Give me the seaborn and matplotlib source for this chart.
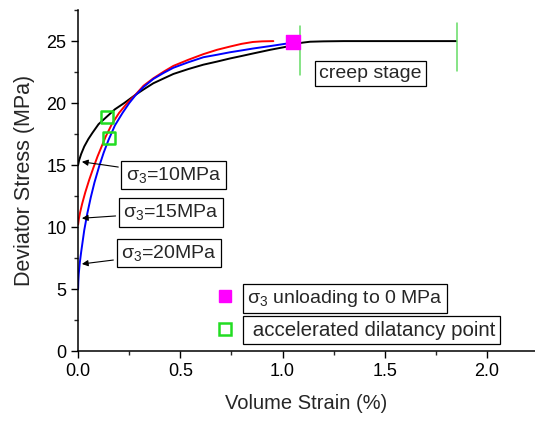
import matplotlib
matplotlib.use("Agg")
import matplotlib.pyplot as plt
from matplotlib.lines import Line2D
from matplotlib.ticker import MultipleLocator
import seaborn as sns
import pandas as pd

# Stress-strain curves (volume strain %, deviator stress MPa)
strain_10 = [0.0, 0.005, 0.015, 0.03, 0.05, 0.07, 0.1, 0.14, 0.18, 0.225, 0.279, 0.32, 0.368, 0.42, 0.466,
             0.54, 0.613, 0.68, 0.743, 0.8, 0.855, 0.94, 1.02, 1.05, 1.1, 1.135, 1.2, 1.3, 1.5, 1.7, 1.85]
stress_10 = [15.0, 15.4, 15.9, 16.5, 17.1, 17.6, 18.3, 18.9, 19.5, 20.0, 20.65, 21.1, 21.6, 22.0, 22.35,
             22.75, 23.1, 23.35, 23.6, 23.8, 24.0, 24.3, 24.55, 24.75, 24.88, 24.95, 24.98, 25.0, 25.0, 25.0, 25.0]
strain_15 = [0.0, 0.004, 0.01, 0.02, 0.035, 0.054, 0.075, 0.095, 0.115, 0.135, 0.165, 0.2, 0.24, 0.279, 0.32,
             0.368, 0.42, 0.466, 0.54, 0.613, 0.68, 0.743, 0.8, 0.855, 0.9, 0.955]
stress_15 = [10.2, 10.7, 11.2, 11.9, 12.8, 13.8, 14.8, 15.7, 16.5, 17.3, 18.3, 19.2, 20.0, 20.65, 21.4,
             22.0, 22.55, 23.0, 23.5, 23.95, 24.3, 24.56, 24.78, 24.93, 24.98, 25.0]
strain_20 = [0.0, 0.001, 0.003, 0.008, 0.015, 0.03, 0.045, 0.062, 0.08, 0.103, 0.125, 0.148, 0.18, 0.217,
             0.25, 0.279, 0.32, 0.368, 0.42, 0.466, 0.54, 0.613, 0.68, 0.743, 0.8, 0.855, 0.94, 1.02, 1.05]
stress_20 = [5.0, 5.6, 6.2, 7.1, 8.0, 9.75, 11.1, 12.4, 13.6, 14.9, 16.0, 17.0, 18.2, 19.2,
             20.0, 20.6, 21.3, 21.95, 22.45, 22.85, 23.3, 23.7, 23.9, 24.1, 24.25, 24.4, 24.6, 24.8, 24.85]

# Key points
unload_x, unload_y = [1.05], [24.9]
dilat_x, dilat_y = [0.14, 0.152], [18.9, 17.2]
creep_bounds = [1.085, 1.853]
creep_lo, creep_hi = [22.3, 22.6], [26.2, 26.5]

curves = pd.concat([
    pd.DataFrame({"strain": strain_10, "stress": stress_10, "case": "10"}),
    pd.DataFrame({"strain": strain_15, "stress": stress_15, "case": "15"}),
    pd.DataFrame({"strain": strain_20, "stress": stress_20, "case": "20"}),
])

sns.set_style("ticks")
plt.rcParams["font.family"] = ["Liberation Sans", "DejaVu Sans"]

fig, ax = plt.subplots(figsize=(5.35, 4.21), dpi=100)
fig.subplots_adjust(left=0.146, right=1.0, bottom=0.166, top=0.976)

sns.lineplot(data=curves, x="strain", y="stress", hue="case", sort=False,
             palette={"10": "black", "15": "red", "20": "blue"}, linewidth=1.4,
             legend=False, ax=ax, zorder=2)

for xb, lo, hi in zip(creep_bounds, creep_lo, creep_hi):
    ax.plot([xb, xb], [lo, hi], color="#66dd66", linewidth=1.1, zorder=3)

ax.scatter(unload_x, unload_y, marker="s", s=90, color="magenta", zorder=4)
ax.scatter(dilat_x, dilat_y, marker="s", s=70, facecolors="none",
           edgecolors="#22dd22", linewidths=1.8, zorder=4)

box = dict(boxstyle="square,pad=0.22", facecolor="white", edgecolor="black", linewidth=0.9)
ax.text(1.18, 22.4, "creep stage", fontsize=14, va="center", ha="left", bbox=box)

arrow = dict(arrowstyle="-|>", color="black", linewidth=0.8, mutation_scale=9)
ax.annotate(r"$\mathregular{\sigma_3}$=10MPa", xy=(0.005, 15.3), xytext=(0.233, 14.2),
            fontsize=14, va="center", ha="left", bbox=box, arrowprops=arrow)
ax.annotate(r"$\mathregular{\sigma_3}$=15MPa", xy=(0.005, 10.7), xytext=(0.22, 11.2),
            fontsize=14, va="center", ha="left", bbox=box, arrowprops=arrow)
ax.annotate(r"$\mathregular{\sigma_3}$=20MPa", xy=(0.005, 7.0), xytext=(0.209, 7.9),
            fontsize=14, va="center", ha="left", bbox=box, arrowprops=arrow)

handles = [
    Line2D([], [], linestyle="none", marker="s", markersize=9, color="magenta"),
    Line2D([], [], linestyle="none", marker="s", markersize=8, markerfacecolor="none",
           markeredgecolor="#22dd22", markeredgewidth=1.8),
]
leg = ax.legend(handles, [r"$\mathregular{\sigma_3}$ unloading to 0 MPa", " accelerated dilatancy point"],
                loc="upper left", bbox_to_anchor=(0.304, 0.185), frameon=False, fontsize=14,
                borderpad=0, borderaxespad=0, handlelength=0.8, handletextpad=0.75,
                labelspacing=0.6)
leg.get_texts()[1].set_fontsize(14.8)
for t in leg.get_texts():
    t.set_bbox(dict(boxstyle="square,pad=0.22", facecolor="white", edgecolor="black", linewidth=0.9))

ax.set_xlim(0, 2.235)
ax.set_ylim(0, 27.5)
ax.xaxis.set_major_locator(MultipleLocator(0.5))
ax.xaxis.set_minor_locator(MultipleLocator(0.25))
ax.yaxis.set_major_locator(MultipleLocator(5))
ax.yaxis.set_minor_locator(MultipleLocator(2.5))
ax.tick_params(which="major", length=5, width=1, labelsize=13, direction="out", colors="black")
ax.tick_params(which="minor", length=3, width=1, direction="out")
ax.set_xticklabels([f"{v:.1f}" for v in ax.get_xticks()])
ax.set_xlabel("Volume Strain (%)", fontsize=14.5, labelpad=10)
ax.set_ylabel("Deviator Stress (MPa)", fontsize=15.5, labelpad=8)
sns.despine(ax=ax)
for s in ("left", "bottom"):
    ax.spines[s].set_linewidth(1.1)
    ax.spines[s].set_color("black")

fig.savefig("out.png", dpi=100)
